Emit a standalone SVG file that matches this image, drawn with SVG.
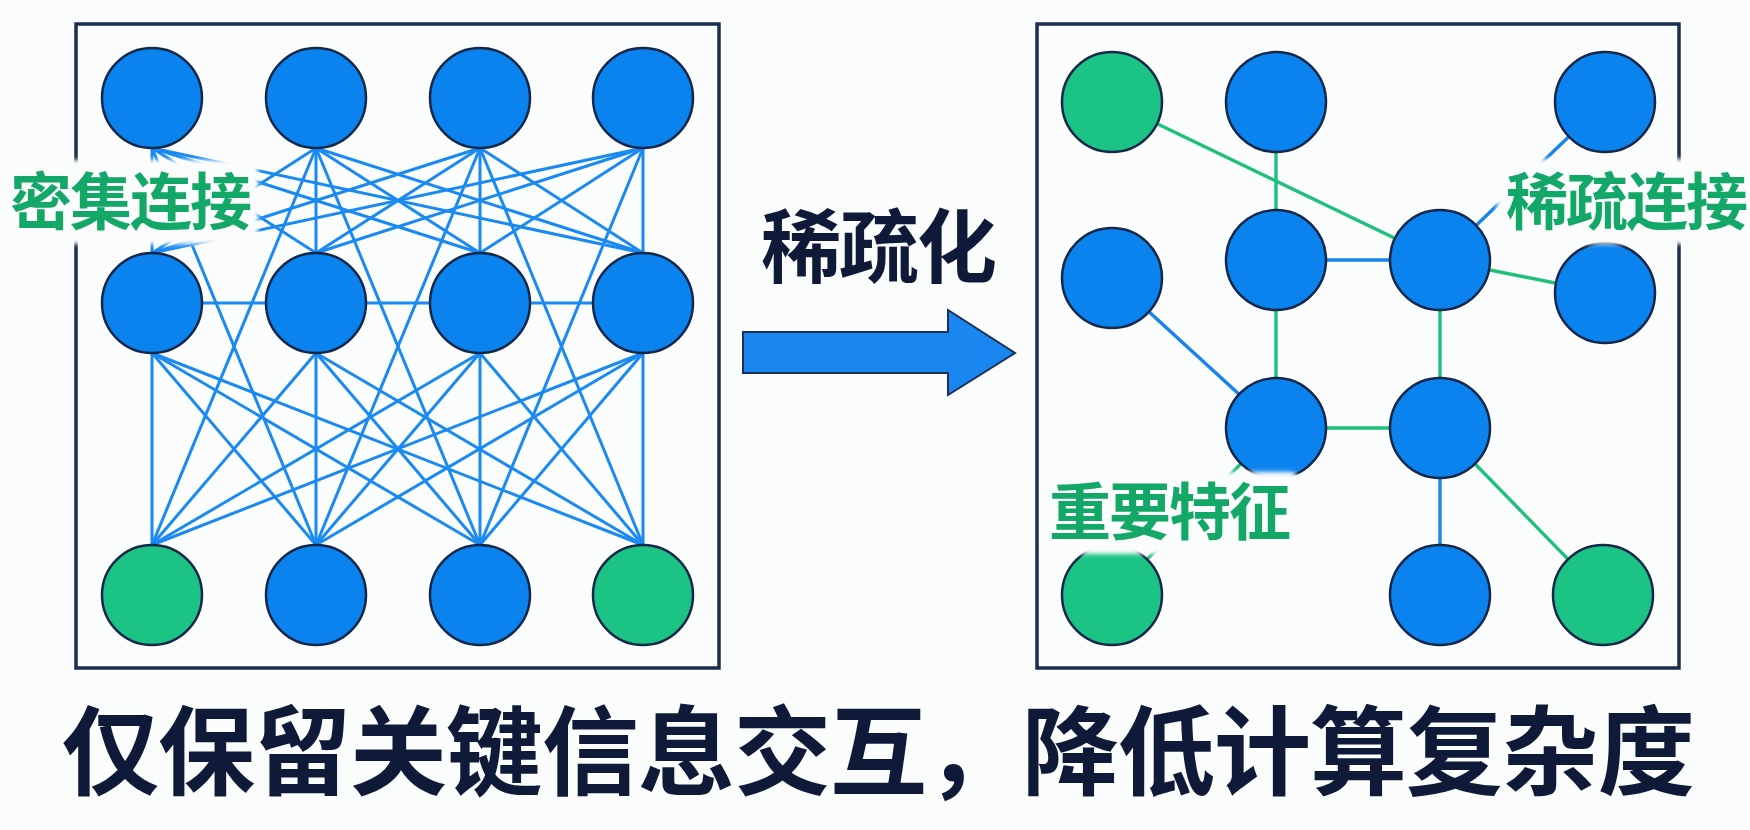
<svg xmlns="http://www.w3.org/2000/svg" width="1750" height="830" viewBox="0 0 1750 830">
<defs>
<style>
.bg{fill:#fbfcfc}
.box{fill:none;stroke:#1d2d4d;stroke-width:3.5}
.nb{fill:#0b83ee;stroke:#15284a;stroke-width:2.5}
.ng{fill:#1bc484;stroke:#15284a;stroke-width:2.5}
.lb{stroke:#1a8af2;stroke-width:3;fill:none}
.rb{stroke:#1a84ee;stroke-width:3.4;fill:none}
.rg{stroke:#1fc07c;stroke-width:3.4;fill:none}
.lab{font-family:"Liberation Sans","Noto Sans CJK SC",sans-serif;font-weight:700;fill:#13a867;font-size:62px;letter-spacing:-2px;text-anchor:middle}
.big{font-family:"Liberation Sans","Noto Sans CJK SC",sans-serif;font-weight:700;fill:#0f1a38;text-anchor:middle}
.lbg{fill:#fbfcfc;filter:url(#soft)}
</style>
<filter id="soft" x="-10%" y="-20%" width="120%" height="140%"><feGaussianBlur stdDeviation="2"/></filter>
</defs>
<rect class="bg" x="0" y="0" width="1750" height="830"/>
<rect class="box" x="76" y="24" width="643" height="644"/>
<rect class="box" x="1037" y="24" width="642" height="644"/>
<g id="connectors">
<g class="lb">
<line x1="152" y1="148" x2="152" y2="253"/><line x1="152" y1="148" x2="316" y2="253"/><line x1="152" y1="148" x2="480" y2="253"/><line x1="152" y1="148" x2="643" y2="253"/>
<line x1="316" y1="148" x2="152" y2="253"/><line x1="316" y1="148" x2="316" y2="253"/><line x1="316" y1="148" x2="480" y2="253"/><line x1="316" y1="148" x2="643" y2="253"/>
<line x1="480" y1="148" x2="152" y2="253"/><line x1="480" y1="148" x2="316" y2="253"/><line x1="480" y1="148" x2="480" y2="253"/><line x1="480" y1="148" x2="643" y2="253"/>
<line x1="643" y1="148" x2="152" y2="253"/><line x1="643" y1="148" x2="316" y2="253"/><line x1="643" y1="148" x2="480" y2="253"/><line x1="643" y1="148" x2="643" y2="253"/>
<line x1="152" y1="353" x2="152" y2="545"/><line x1="152" y1="353" x2="316" y2="545"/><line x1="152" y1="353" x2="480" y2="545"/><line x1="152" y1="353" x2="643" y2="545"/>
<line x1="316" y1="353" x2="152" y2="545"/><line x1="316" y1="353" x2="316" y2="545"/><line x1="316" y1="353" x2="480" y2="545"/><line x1="316" y1="353" x2="643" y2="545"/>
<line x1="480" y1="353" x2="152" y2="545"/><line x1="480" y1="353" x2="316" y2="545"/><line x1="480" y1="353" x2="480" y2="545"/><line x1="480" y1="353" x2="643" y2="545"/>
<line x1="643" y1="353" x2="152" y2="545"/><line x1="643" y1="353" x2="316" y2="545"/><line x1="643" y1="353" x2="480" y2="545"/><line x1="643" y1="353" x2="643" y2="545"/>
<line x1="152" y1="148" x2="316" y2="545"/><line x1="316" y1="148" x2="152" y2="545"/><line x1="316" y1="148" x2="480" y2="545"/><line x1="480" y1="148" x2="316" y2="545"/><line x1="480" y1="148" x2="643" y2="545"/><line x1="643" y1="148" x2="480" y2="545"/>
<line x1="202" y1="303" x2="266" y2="303"/><line x1="366" y1="303" x2="430" y2="303"/><line x1="530" y1="303" x2="593" y2="303"/>
</g>
<g class="rb">
<line x1="1605" y1="102" x2="1440" y2="260"/>
<line x1="1276" y1="260" x2="1440" y2="260"/>
<line x1="1112" y1="278" x2="1276" y2="428"/>
<line x1="1440" y1="428" x2="1440" y2="595"/>
</g>
<g class="rg">
<line x1="1112" y1="102" x2="1440" y2="260"/>
<line x1="1276" y1="102" x2="1276" y2="260"/>
<line x1="1440" y1="260" x2="1605" y2="293"/>
<line x1="1276" y1="260" x2="1276" y2="428"/>
<line x1="1440" y1="260" x2="1440" y2="428"/>
<line x1="1276" y1="428" x2="1440" y2="428"/>
<line x1="1440" y1="428" x2="1603" y2="595"/>
<line x1="1276" y1="428" x2="1112" y2="595"/>
</g>
</g>
<g id="dense-nodes">
<circle id="d-t1" class="nb" cx="152" cy="98" r="50"/>
<circle id="d-t2" class="nb" cx="316" cy="98" r="50"/>
<circle id="d-t3" class="nb" cx="480" cy="98" r="50"/>
<circle id="d-t4" class="nb" cx="643" cy="98" r="50"/>
<circle id="d-m1" class="nb" cx="152" cy="303" r="50"/>
<circle id="d-m2" class="nb" cx="316" cy="303" r="50"/>
<circle id="d-m3" class="nb" cx="480" cy="303" r="50"/>
<circle id="d-m4" class="nb" cx="643" cy="303" r="50"/>
<circle id="d-b1" class="ng" cx="152" cy="595" r="50"/>
<circle id="d-b2" class="nb" cx="316" cy="595" r="50"/>
<circle id="d-b3" class="nb" cx="480" cy="595" r="50"/>
<circle id="d-b4" class="ng" cx="643" cy="595" r="50"/>
</g>
<g id="sparse-nodes">
<circle id="s-g1" class="ng" cx="1112" cy="102" r="50"/>
<circle id="s-t2" class="nb" cx="1276" cy="102" r="50"/>
<circle id="s-t4" class="nb" cx="1605" cy="102" r="50"/>
<circle id="s-ml" class="nb" cx="1112" cy="278" r="50"/>
<circle id="s-ca" class="nb" cx="1276" cy="260" r="50"/>
<circle id="s-cb" class="nb" cx="1440" cy="260" r="50"/>
<circle id="s-rm" class="nb" cx="1605" cy="293" r="50"/>
<circle id="s-la" class="nb" cx="1276" cy="428" r="50"/>
<circle id="s-lb" class="nb" cx="1440" cy="428" r="50"/>
<circle id="s-bl" class="ng" cx="1112" cy="595" r="50"/>
<circle id="s-bb" class="nb" cx="1440" cy="595" r="50"/>
<circle id="s-br" class="ng" cx="1603" cy="595" r="50"/>
</g>
<g id="label-dense">
<rect class="lbg" x="0" y="160" width="258" height="84" rx="10"/>
<text class="lab" x="130" y="225">密集连接</text>
</g>
<g id="label-sparse">
<rect class="lbg" x="1497" y="159" width="253" height="85" rx="10"/>
<text class="lab" x="1626" y="225">稀疏连接</text>
</g>
<g id="label-important">
<rect class="lbg" x="1042" y="472" width="258" height="82" rx="10"/>
<text class="lab" x="1169" y="535">重要特征</text>
</g>
<g id="arrow">
<path d="M743,332 H948 V310 L1015,353 L948,395 V373 H743 Z" fill="#1a86ef" stroke="#1c2f55" stroke-width="2"/>
<text class="big" x="878" y="276" font-size="80" letter-spacing="-2">稀疏化</text>
</g>
<g id="caption">
<text class="big" x="878" y="787" font-size="97" letter-spacing="-1">仅保留关键信息交互，降低计算复杂度</text>
</g>
</svg>
